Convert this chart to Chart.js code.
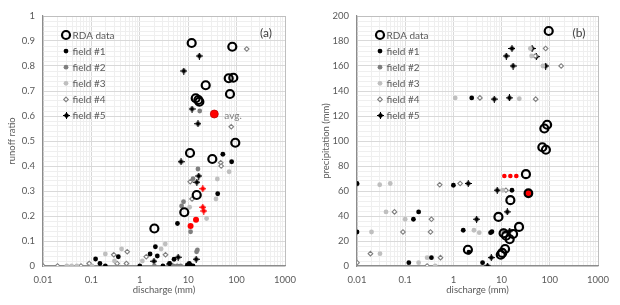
<!DOCTYPE html>
<html>
<head>
<meta charset="utf-8">
<script src="https://cdn.jsdelivr.net/npm/chart.js@4.4.0/dist/chart.umd.min.js"></script>
<style>
  body { margin: 0; background: #fff; }
  #wrap { display: flex; width: 620px; height: 305px; }
</style>
</head>
<body>
<div id="wrap">
  <canvas id="chartA" width="310" height="305"></canvas>
  <canvas id="chartB" width="310" height="305"></canvas>
</div>
<script>
// --- eixos ---
const xMajor = [0.01, 0.1, 1, 10, 100, 1000];
const xTickLabels = ["0.01", "0.1", "1", "10", "100", "1000"];
const yTicksA = [0, 0.1, 0.2, 0.3, 0.4, 0.5, 0.6, 0.7, 0.8, 0.9, 1];
const yTickLabelsA = ["0", "0.1", "0.2", "0.3", "0.4", "0.5", "0.6", "0.7", "0.8", "0.9", "1"];
const yTicksB = [0, 20, 40, 60, 80, 100, 120, 140, 160, 180, 200];
const yTickLabelsB = ["0", "20", "40", "60", "80", "100", "120", "140", "160", "180", "200"];

// --- panell (a): [discharge, runoff ratio] ---
const rdaA = [[2.0, 0.15], [8.3, 0.215], [15, 0.284], [10.9, 0.452], [31.5, 0.428], [94, 0.493],
  [11.8, 0.892], [81.5, 0.877], [23, 0.723], [14.3, 0.671], [16.2, 0.664], [17, 0.657],
  [68.7, 0.751], [85.5, 0.753], [73, 0.688]];
const field1A = [[0.122, 0.028], [0.15, 0.01], [0.194, 0], [0.36, 0.037], [1.0, 0], [1.63, 0.048],
  [2.1, 0.077], [2.3, 0.04], [3.0, 0], [4.1, 0.01], [5.1, 0.027], [6.0, 0.17], [9.6, 0.004],
  [10.5, 0.01], [11.1, 0.004], [12.6, 0], [40.7, 0.289], [52, 0.447], [79, 0.417]];
const field2A = [[2.0, 0], [4.9, 0], [5.9, 0], [7.0, 0], [7.3, 0.24], [8.0, 0.257], [11.2, 0.137],
  [14.9, 0.057], [15.5, 0.064], [12.6, 0.349], [15.9, 0.388], [17.3, 0.62]];
const field3A = [[0.031, 0], [0.039, 0], [0.05, 0], [0.103, 0], [0.194, 0.048], [0.3, 0.02],
  [0.42, 0.068], [1.13, 0.02], [2.76, 0.068], [3.36, 0.088], [10.7, 0.235], [24, 0.19],
  [37.5, 0.268], [40, 0.348], [70, 0.377]];
const field4A = [[0.01, 0], [0.02, 0], [0.061, 0], [0.09, 0.01], [0.29, 0.045], [0.34, 0.01],
  [0.55, 0.057], [0.53, 0.01], [1.36, 0.037], [3.4, 0.045], [11, 0.337], [12, 0.268],
  [47, 0.413], [48, 0.4], [77.6, 0.557], [162, 0.868]];
const field5A = [[1.96, 0.019], [4.2, 0.008], [6.2, 0.035], [14.6, 0.027], [7.1, 0.417],
  [15.1, 0.335], [16.5, 0.36], [15.9, 0.569], [12, 0.628], [8.1, 0.78], [17, 0.84]];
const avgMainA = [[34.6, 0.608]];
const avgDotsA = [[11.2, 0.16], [14.5, 0.185]];
const avgPlusA = [[20, 0.309], [20, 0.235], [21, 0.22]];

// --- panell (b): [discharge, precipitation] ---
const rdaB = [[95, 188], [88, 113], [77, 110], [70, 95], [83, 93], [32, 73.5], [15.2, 52.7],
  [8.6, 39.3], [23, 31.3], [11, 26.2], [12.4, 24.2], [17.3, 25.6], [14.7, 21.4], [11.8, 13.6],
  [2.0, 13], [10.3, 10.5], [9.6, 9]];
const field1B = [[0.01, 66], [0.01, 27.2], [0.119, 2.7], [0.148, 37.4], [0.19, 43.3], [0.35, 6.7],
  [1.0, 64.6], [1.6, 28.6], [2.1, 11], [2.4, 134.5], [4.03, 2.7], [5.9, 26.7], [6.3, 27.4], [16.4, 60.6]];
const field2B = [[0.01, 65.5], [11.5, 27.5]];
const field3B = [[0.0296, 65], [0.049, 66], [0.04, 43.3], [0.1, 37.4], [0.02, 27.2], [0.03, 9.9],
  [0.19, 2.7], [0.285, 6.7], [0.42, 0], [1.09, 134.5], [2.67, 28.6], [3.44, 26.7], [10.5, 60.6],
  [10.5, 28], [23.3, 133.8], [39.5, 174], [42, 168], [72, 160]];
const field4B = [[0.01, 2.7], [0.019, 9.9], [0.06, 43.3], [0.09, 27.2], [0.335, 27.2], [0.35, 37.4],
  [0.52, 65], [0.54, 6.7], [0.285, 0], [1.38, 66], [3.55, 134.5], [12.3, 60.6], [11, 28],
  [51, 133.5], [50, 168], [82, 174], [172, 160]];
const field5B = [[2.03, 66], [3.03, 37.4], [5.1, 0], [6.1, 6.7], [7.05, 133.5], [8.1, 60.6],
  [13.1, 43.3], [14.5, 134.5], [14.7, 28], [12.5, 168], [16.4, 174], [17.3, 160], [42.9, 174],
  [52.6, 167.5], [82, 160]];
const avgMainB = [[36, 58.2]];
const avgDotsB = [[11.4, 72], [15.2, 72], [20.2, 72]];

Chart.defaults.font.family = "Lato";
Chart.defaults.font.size = 9.5;
Chart.defaults.color = "#595959";

// marcador de field #5: rombe amb petits braços
function makeStar(color) {
  const c = document.createElement("canvas");
  c.width = 7; c.height = 7;
  const g = c.getContext("2d");
  g.fillStyle = color;
  g.beginPath(); g.moveTo(3.5, 0.6); g.lineTo(6.4, 3.5); g.lineTo(3.5, 6.4); g.lineTo(0.6, 3.5); g.fill();
  g.fillRect(3, 0, 1, 7);
  g.fillRect(0, 3, 7, 1);
  g.fillRect(2, 2, 3, 3);
  return c;
}
const blackStar = makeStar("#000000");
const redStar = makeStar("#ff0000");

const pts = (arr) => arr.map(([x, y]) => ({ x, y }));
const near = (list, v) => list.findIndex((m) => Math.abs(m - v) <= Math.abs(m) * 1e-6 + 1e-9);

function drawMarker(ctx, d, x, y) {
  const st = d.pointStyle, r = d.pointRadius;
  ctx.save();
  if (st instanceof HTMLCanvasElement) {
    ctx.drawImage(st, Math.round(x - st.width / 2), Math.round(y - st.height / 2));
    ctx.restore();
    return;
  }
  ctx.beginPath();
  if (st === "rectRot") {
    ctx.moveTo(x, y - r); ctx.lineTo(x + r, y); ctx.lineTo(x, y + r); ctx.lineTo(x - r, y); ctx.closePath();
  } else {
    ctx.arc(x, y, r, 0, Math.PI * 2);
  }
  ctx.fillStyle = d.backgroundColor;
  ctx.fill();
  if (d.borderWidth) { ctx.lineWidth = d.borderWidth; ctx.strokeStyle = d.borderColor; ctx.stroke(); }
  ctx.restore();
}

// llegenda, lletra del panell i nota "avg."
const decorPlugin = {
  id: "decor",
  afterDatasetsDraw(chart, args, opts) {
    const { ctx, chartArea } = chart;
    ctx.save();
    chart.data.datasets.filter((d) => d.inLegend).forEach((d, i) => {
      const x = chartArea.left + 23, y = chartArea.top + 19 + i * 16.1;
      drawMarker(ctx, d, x, y);
      ctx.fillStyle = "#595959";
      ctx.font = "10px Lato";
      ctx.textAlign = "left";
      ctx.textBaseline = "middle";
      ctx.fillText(d.label, x + 6.5, y + 0.5);
    });
    ctx.font = "12px Lato";
    ctx.fillStyle = "#404040";
    ctx.textAlign = "center";
    ctx.textBaseline = "middle";
    ctx.fillText(opts.letter, chartArea.right - 19, chartArea.top + 17);
    if (opts.note) {
      const xs = chart.scales.x, ys = chart.scales.y;
      ctx.font = "10px Lato";
      ctx.fillStyle = "#7f7f7f";
      ctx.textAlign = "left";
      ctx.fillText(opts.note.text, xs.getPixelForValue(opts.note.at[0]) + 10, ys.getPixelForValue(opts.note.at[1]) + 2);
    }
    ctx.restore();
  },
};

function baseDatasets(rda, f1, f2, f3, f4, f5) {
  return [
    { label: "RDA data", data: pts(rda), inLegend: true, pointStyle: "circle", pointRadius: 4,
      backgroundColor: "rgba(255,255,255,0)", borderColor: "#000", borderWidth: 2.2 },
    { label: "field #1", data: pts(f1), inLegend: true, pointStyle: "circle", pointRadius: 2.4,
      backgroundColor: "#000", borderColor: "#000", borderWidth: 0 },
    { label: "field #2", data: pts(f2), inLegend: true, pointStyle: "circle", pointRadius: 2.4,
      backgroundColor: "#7f7f7f", borderColor: "#7f7f7f", borderWidth: 0 },
    { label: "field #3", data: pts(f3), inLegend: true, pointStyle: "circle", pointRadius: 2.4,
      backgroundColor: "#bfbfbf", borderColor: "#bfbfbf", borderWidth: 0 },
    { label: "field #4", data: pts(f4), inLegend: true, pointStyle: "rectRot", pointRadius: 2.3,
      backgroundColor: "#fff", borderColor: "#7f7f7f", borderWidth: 1.1 },
    { label: "field #5", data: pts(f5), inLegend: true, pointStyle: blackStar, pointRadius: 3.5,
      backgroundColor: "#000", borderColor: "#000", borderWidth: 0 },
  ];
}

function makeOptions(yTicks, yLabels, yTitle, yWidth, padRight, titleGap, extra) {
  const yStep = (yTicks[1] - yTicks[0]) / 5;
  const yMax = yTicks[yTicks.length - 1];
  return {
    responsive: false,
    animation: false,
    events: [],
    layout: { padding: { left: 0, right: padRight, top: 16, bottom: 0 } },
    plugins: { legend: { display: false }, tooltip: { enabled: false }, decor: extra },
    scales: {
      x: {
        type: "logarithmic",
        min: xMajor[0],
        max: xMajor[xMajor.length - 1],
        afterBuildTicks: (scale) => {
          const t = [];
          for (let d = 0; d < xMajor.length - 1; d++)
            for (let k = 1; k < 10; k++) t.push({ value: xMajor[d] * k });
          t.push({ value: xMajor[xMajor.length - 1] });
          scale.ticks = t;
        },
        afterFit: (scale) => { scale.height = 39; },
        ticks: {
          autoSkip: false, maxRotation: 0, minRotation: 0, padding: 8, color: "#595959",
          callback: (v) => { const i = near(xMajor, v); return i >= 0 ? xTickLabels[i] : ""; },
        },
        grid: {
          drawTicks: false,
          color: (c) => {
            const v = c.tick.value;
            if (near([xMajor[xMajor.length - 1]], v) === 0) return "#bfbfbf";
            return near(xMajor, v) >= 0 ? "#d9d9d9" : "#efefef";
          },
        },
        border: { color: "#8c8c8c", width: 1.2 },
        title: { display: true, text: "discharge (mm)", color: "#595959", padding: { top: 2, bottom: 9 } },
      },
      y: {
        type: "linear",
        min: yTicks[0],
        max: yMax,
        afterBuildTicks: (scale) => {
          const t = [];
          const n = Math.round((yMax - yTicks[0]) / yStep);
          for (let i = 0; i <= n; i++) t.push({ value: +(yTicks[0] + i * yStep).toFixed(6) });
          scale.ticks = t;
        },
        afterFit: (scale) => { scale.width = yWidth; },
        ticks: {
          autoSkip: false, padding: 8, color: "#595959",
          callback: (v) => { const i = near(yTicks, v); return i >= 0 ? yLabels[i] : ""; },
        },
        grid: {
          drawTicks: false,
          color: (c) => {
            const v = c.tick.value;
            if (near([yMax], v) === 0) return "#bfbfbf";
            return near(yTicks, v) >= 0 ? "#d9d9d9" : "#efefef";
          },
        },
        border: { color: "#8c8c8c", width: 1.2 },
        title: { display: true, text: yTitle, color: "#595959", padding: { top: titleGap, bottom: 2 } },
      },
    },
  };
}

new Chart(document.getElementById("chartA"), {
  type: "scatter",
  data: {
    datasets: [
      { label: "avg.", data: pts(avgMainA), pointStyle: "circle", pointRadius: 4,
        backgroundColor: "#ff0000", borderColor: "#c00000", borderWidth: 0.8 },
      { label: "avg fields", data: pts(avgDotsA), pointStyle: "circle", pointRadius: 3,
        backgroundColor: "#ff0000", borderColor: "#ff0000", borderWidth: 0 },
      { label: "avg field #5", data: pts(avgPlusA), pointStyle: redStar, pointRadius: 3.5,
        backgroundColor: "#ff0000", borderColor: "#ff0000", borderWidth: 0 },
      ...baseDatasets(rdaA, field1A, field2A, field3A, field4A, field5A),
    ],
  },
  options: makeOptions(yTicksA, yTickLabelsA, "runoff ratio", 43, 25, 6,
    { letter: "(a)", note: { text: "avg.", at: avgMainA[0] } }),
  plugins: [decorPlugin],
});

new Chart(document.getElementById("chartB"), {
  type: "scatter",
  data: {
    datasets: [
      { label: "avg.", data: pts(avgMainB), pointStyle: "circle", pointRadius: 3.8,
        backgroundColor: "#ff0000", borderColor: "#000", borderWidth: 2.2 },
      { label: "avg fields", data: pts(avgDotsB), pointStyle: "circle", pointRadius: 2.3,
        backgroundColor: "#ff0000", borderColor: "#ff0000", borderWidth: 0 },
      ...baseDatasets(rdaB, field1B, field2B, field3B, field4B, field5B),
    ],
  },
  options: makeOptions(yTicksB, yTickLabelsB, "precipitation (mm)", 47, 22, 10, { letter: "(b)" }),
  plugins: [decorPlugin],
});
</script>
</body>
</html>
